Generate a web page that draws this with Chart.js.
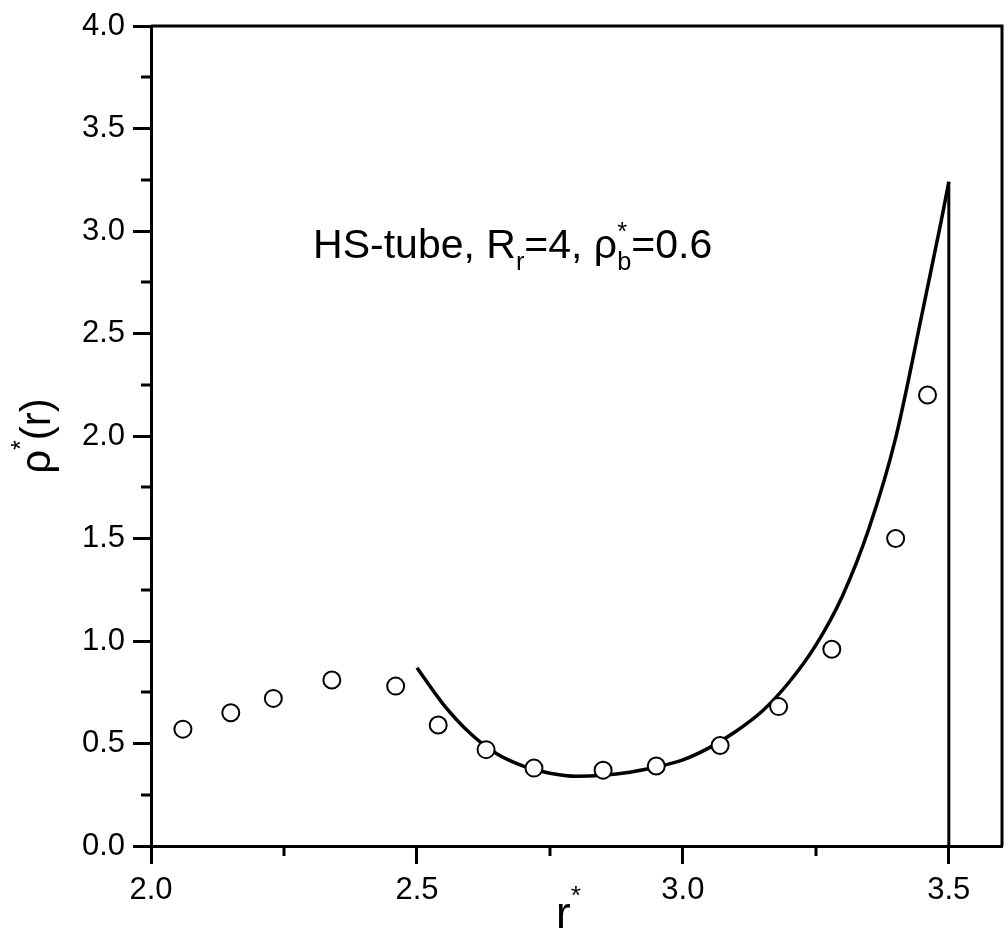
<!DOCTYPE html>
<html>
<head>
<meta charset="utf-8">
<script src="https://cdn.jsdelivr.net/npm/chart.js@4"></script>
<style>
    html, body { margin: 0; padding: 0; background: #fff; overflow: hidden; }
    #wrap { width: 1005px; height: 936px; }
    #rho-chart { display: block; }
</style>
</head>
<body>
<div id="wrap"><canvas id="rho-chart" width="1005" height="936"></canvas></div>
<script>
// simulation points (open circles)
const simR = [2.06, 2.15, 2.23, 2.34, 2.46, 2.54, 2.63, 2.72, 2.85, 2.95, 3.07, 3.18, 3.28, 3.40, 3.46];
const simRho = [0.57, 0.65, 0.72, 0.81, 0.78, 0.59, 0.47, 0.38, 0.37, 0.39, 0.49, 0.68, 0.96, 1.50, 2.20];

// theory curve (solid line)
const theoryR = [2.50, 2.55, 2.60, 2.65, 2.70, 2.75, 2.80, 2.85, 2.90, 2.95, 3.00, 3.05, 3.10, 3.15, 3.20, 3.25, 3.30, 3.35, 3.40, 3.45, 3.485, 3.50];
const theoryRho = [0.87, 0.69, 0.55, 0.45, 0.39, 0.355, 0.34, 0.345, 0.36, 0.385, 0.42, 0.48, 0.56, 0.66, 0.80, 0.98, 1.22, 1.55, 1.99, 2.60, 3.04, 3.24];

// hard wall at r* = 3.5
const wallR = [3.5, 3.5];
const wallRho = [0, 3.24];

// axis ticks
const xMajor = [2.0, 2.5, 3.0, 3.5];
const xMinor = [2.25, 2.75, 3.25];
const yMajor = [0.0, 0.5, 1.0, 1.5, 2.0, 2.5, 3.0, 3.5, 4.0];
const yMinor = [0.25, 0.75, 1.25, 1.75, 2.25, 2.75, 3.25, 3.75];

const FONT = '"Liberation Sans", Arial, sans-serif';

const toXY = (xs, ys) => xs.map((v, i) => ({ x: v, y: ys[i] }));

// draw a string made of pieces, some raised or lowered
function drawRich(ctx, parts, x, y, size) {
    let cx = x;
    parts.forEach(p => {
        const s = size * (p.scale || 1);
        ctx.font = s + 'px ' + FONT;
        ctx.fillText(p.t, cx, y + (p.dy || 0) * size);
        if (!p.noAdvance) {
            cx += ctx.measureText(p.t).width;
        }
    });
}

function richWidth(ctx, parts, size) {
    let w = 0;
    parts.forEach(p => {
        ctx.font = size * (p.scale || 1) + 'px ' + FONT;
        if (!p.noAdvance) {
            w += ctx.measureText(p.t).width;
        }
    });
    return w;
}

// no extra side padding for the scales, so the plot box fills the canvas
const noPad = s => {
    s.paddingLeft = 0;
    s.paddingRight = 0;
    s.paddingTop = 0;
    s.paddingBottom = 0;
};

const framePlugin = {
    id: 'frame',
    afterDraw(chart) {
        const { ctx, chartArea: a, scales: { x, y } } = chart;
        ctx.save();
        ctx.strokeStyle = '#000';
        ctx.lineWidth = 3;
        ctx.lineCap = 'butt';
        ctx.beginPath();
        ctx.moveTo(a.left, a.top);
        ctx.lineTo(a.right, a.top);
        ctx.lineTo(a.right, a.bottom);
        // minor ticks
        xMinor.forEach(v => {
            const px = Math.round(x.getPixelForValue(v));
            ctx.moveTo(px, a.bottom);
            ctx.lineTo(px, a.bottom + 10);
        });
        yMinor.forEach(v => {
            const py = Math.round(y.getPixelForValue(v));
            ctx.moveTo(a.left, py);
            ctx.lineTo(a.left - 10, py);
        });
        ctx.stroke();

        ctx.fillStyle = '#000';
        ctx.textBaseline = 'alphabetic';
        ctx.textAlign = 'left';

        // annotation
        const label = [
            { t: 'HS-tube, R' },
            { t: 'r', scale: 0.62, dy: 0.3 },
            { t: '=4, \u03C1' },
            { t: '*', scale: 0.62, dy: -0.42, noAdvance: true },
            { t: 'b', scale: 0.62, dy: 0.3 },
            { t: '=0.6' }
        ];
        const size = 41;
        const cx = x.getPixelForValue(2.68);
        const by = y.getPixelForValue(2.87);
        drawRich(ctx, label, cx - richWidth(ctx, label, size) / 2, by, size);

        // x title
        const xt = [{ t: 'r' }, { t: '*', scale: 0.6, dy: -0.55 }];
        drawRich(ctx, xt, x.getPixelForValue(2.785) - richWidth(ctx, xt, 44) / 2, 928, 44);

        // y title (rotated)
        const yt = [{ t: '\u03C1' }, { t: '*', scale: 0.6, dy: -0.5 }, { t: '(r)' }];
        ctx.translate(50, (a.top + a.bottom) / 2);
        ctx.rotate(-Math.PI / 2);
        drawRich(ctx, yt, -richWidth(ctx, yt, 42) / 2, 0, 42);
        ctx.restore();
    }
};

new Chart(document.getElementById('rho-chart').getContext('2d'), {
    type: 'scatter',
    data: {
        datasets: [
            {
                label: 'simulation',
                data: toXY(simR, simRho),
                showLine: false,
                pointRadius: 8.5,
                pointBorderWidth: 2,
                pointBorderColor: '#000',
                pointBackgroundColor: '#fff'
            },
            {
                label: 'theory',
                data: toXY(theoryR, theoryRho),
                showLine: true,
                pointRadius: 0,
                borderColor: '#000',
                borderWidth: 3.5,
                cubicInterpolationMode: 'monotone'
            },
            {
                label: 'wall',
                data: toXY(wallR, wallRho),
                showLine: true,
                pointRadius: 0,
                borderColor: '#000',
                borderWidth: 3
            }
        ]
    },
    options: {
        responsive: false,
        animation: false,
        layout: { autoPadding: false, padding: { top: 26, right: 3, left: 0, bottom: 0 } },
        plugins: {
            legend: { display: false },
            tooltip: { enabled: false }
        },
        scales: {
            x: {
                type: 'linear',
                min: 2.0,
                max: 3.6,
                afterFit: s => { s.height = 90; noPad(s); },
                afterBuildTicks: s => { s.ticks = xMajor.map(v => ({ value: v })); },
                ticks: {
                    color: '#000',
                    font: { family: FONT, size: 31 },
                    padding: 8,
                    callback: v => v.toFixed(1)
                },
                grid: { drawOnChartArea: false, tickLength: 18, tickWidth: 3, tickColor: '#000' },
                border: { color: '#000', width: 3 }
            },
            y: {
                type: 'linear',
                min: 0,
                max: 4.0,
                afterFit: s => { s.width = 151; noPad(s); },
                afterBuildTicks: s => { s.ticks = yMajor.map(v => ({ value: v })); },
                ticks: {
                    color: '#000',
                    font: { family: FONT, size: 31 },
                    padding: 8,
                    callback: v => v.toFixed(1)
                },
                grid: { drawOnChartArea: false, tickLength: 18, tickWidth: 3, tickColor: '#000' },
                border: { color: '#000', width: 3 }
            }
        }
    },
    plugins: [framePlugin]
});
</script>
</body>
</html>
